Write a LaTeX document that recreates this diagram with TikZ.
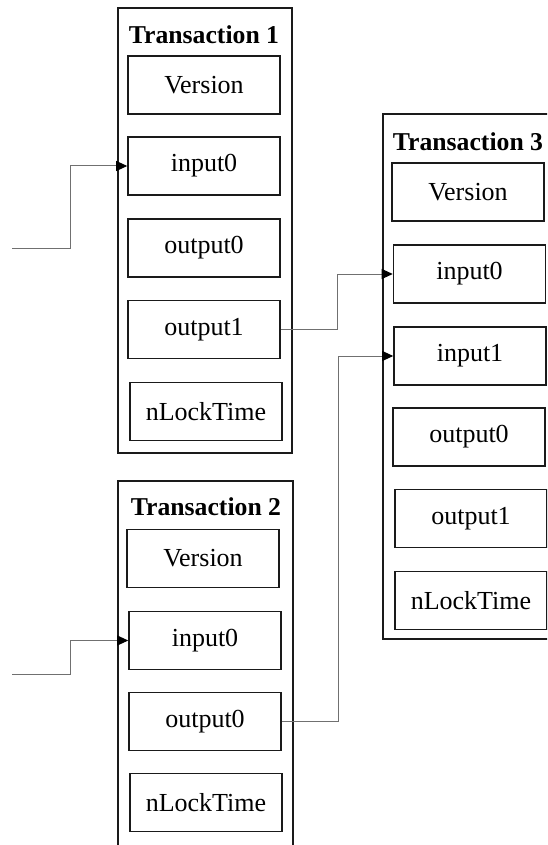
\documentclass[tikz,border=0pt]{standalone}
\usepackage{fontspec}
\setmainfont{Liberation Serif}
\usetikzlibrary{arrows.meta}
\definecolor{edge}{HTML}{1A1A1A}
\definecolor{wire}{HTML}{707070}
\tikzset{
  field/.style={draw=edge, line width=1.6pt, rectangle, inner sep=0pt,
    minimum width=152pt, minimum height=58pt,
    font=\fontsize{26}{30}\selectfont},
  frame/.style={draw=edge, line width=1.6pt, rectangle, inner sep=0pt},
  title/.style={inner sep=0pt, font=\fontsize{25.7}{30}\selectfont\bfseries},
  wirestyle/.style={draw=wire, line width=1pt},
  link/.style={wirestyle, -{Triangle[length=11pt,width=10pt,fill=black,color=black]}}
}
\begin{document}
\begin{tikzpicture}[x=1pt, y=-1pt]
\clip (0,0) rectangle (547,845);
\fill[white] (0,0) rectangle (547,845);

% Transaction 1
\node[frame, minimum width=174pt, minimum height=445pt] (tx1) at (205,230.5) {};
\node[title] (tx1t) at (204,35) {Transaction 1};
\node[field] (t1ver)  at (204,85)    {Version};
\node[field] (t1in0)  at (204,166)   {input0};
\node[field] (t1out0) at (204,248)   {output0};
\node[field] (t1out1) at (204,329.5) {output1};
\node[field] (t1lock) at (206,411.5) {nLockTime};

% Transaction 2 (continues below the page)
\node[frame, minimum width=175pt, minimum height=440pt] (tx2) at (205.5,701) {};
\node[title] (tx2t) at (206,507) {Transaction 2};
\node[field] (t2ver)  at (203,558.5) {Version};
\node[field] (t2in0)  at (205,640.5) {input0};
\node[field] (t2out0) at (205,721.5) {output0};
\node[field] (t2lock) at (206,802.5) {nLockTime};

% Transaction 3 (continues past the right side)
\node[frame, minimum width=175pt, minimum height=525pt] (tx3) at (470.5,376.5) {};
\node[title] (tx3t) at (468,142) {Transaction 3};
\node[field] (t3ver)  at (468,192)   {Version};
\node[field] (t3in0)  at (469.5,274) {input0};
\node[field] (t3in1)  at (470,356)   {input1};
\node[field] (t3out0) at (469,437)   {output0};
\node[field] (t3out1) at (471,518.5) {output1};
\node[field] (t3lock) at (471,600.5) {nLockTime};

% incoming references from earlier transactions
\coordinate (src1) at (12,248);
\coordinate (src2) at (12,674);
\draw[link] (src1) -- ++(58,0) |- (t1in0.west);
\draw[link] (src2) -- ++(58,0) |- (t2in0.west);

% spent outputs feeding Transaction 3
\draw[link] (t1out1.east) -- ++(57,0) |- (t3in0.west);
\draw[link] (t2out0.east) -- ++(57,0) |- (t3in1.west);
\end{tikzpicture}
\end{document}
